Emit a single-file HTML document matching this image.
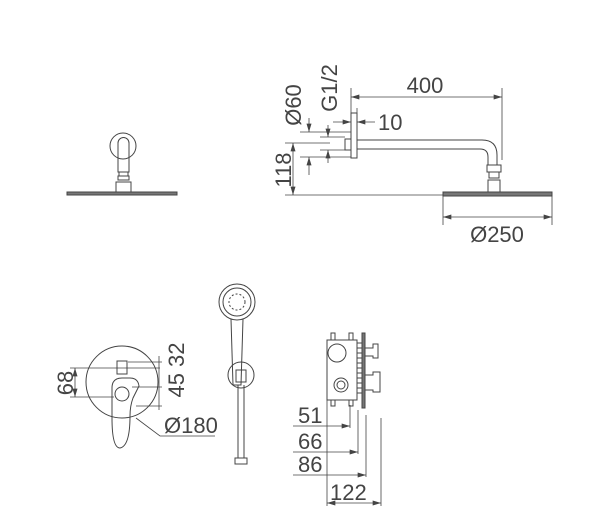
<!DOCTYPE html>
<html><head><meta charset="utf-8"><style>html,body{margin:0;padding:0;background:#fff}svg{display:block}</style></head>
<body>
<svg width="602" height="527" viewBox="0 0 602 527" xmlns="http://www.w3.org/2000/svg" font-family="Liberation Sans, sans-serif" fill="none" stroke="#444" stroke-width="1">
<defs>
<marker id="a" viewBox="0 0 10 6" refX="10" refY="3" markerWidth="9" markerHeight="5" orient="auto-start-reverse" markerUnits="userSpaceOnUse"><path d="M0,0 L10,3 L0,6z" fill="#444" stroke="none"/></marker>
</defs>
<circle cx="123" cy="146" r="13"/>
<path d="M118,172 V143 a5.5,5.5 0 0 1 11,0 V172z" />
<rect x="119" y="172" width="9" height="4"/>
<rect x="118" y="176" width="11" height="4"/>
<rect x="116" y="182" width="15" height="10"/>
<rect x="67" y="192" width="110" height="3" fill="#777"/>
<rect x="351" y="113" width="6" height="45"/>
<rect x="345" y="139" width="6" height="11"/>
<path d="M357,140 H482 q15,0 15,15 V165 M357,149 H480 q8,0 8,8 V165"/>
<rect x="487" y="165" width="14" height="7"/>
<rect x="489" y="172" width="10" height="6"/>
<rect x="488" y="180" width="12" height="12"/>
<rect x="443" y="192" width="109" height="4" fill="#777"/>
<g stroke-width="0.8">
<line x1="351" y1="88" x2="351" y2="113"/><line x1="502" y1="88" x2="502" y2="160"/>
<line x1="351" y1="97" x2="502" y2="97" marker-start="url(#a)" marker-end="url(#a)"/>
<line x1="285" y1="195" x2="443" y2="195"/><line x1="285" y1="143" x2="330" y2="143"/>
<line x1="293" y1="143" x2="293" y2="195" marker-start="url(#a)" marker-end="url(#a)"/>
<line x1="300" y1="132" x2="351" y2="132"/><line x1="300" y1="157" x2="351" y2="157"/>
<line x1="309" y1="118" x2="309" y2="132" marker-end="url(#a)"/><line x1="309" y1="175" x2="309" y2="157" marker-end="url(#a)"/>
<line x1="320" y1="137" x2="345" y2="137"/><line x1="320" y1="150" x2="345" y2="150"/>
<line x1="328" y1="125" x2="328" y2="137" marker-end="url(#a)"/><line x1="328" y1="163" x2="328" y2="150" marker-end="url(#a)"/>
<line x1="333" y1="122" x2="351" y2="122" marker-end="url(#a)"/><line x1="375" y1="122" x2="357" y2="122" marker-end="url(#a)"/>
<line x1="357" y1="113" x2="357" y2="108"/>
<line x1="443" y1="196" x2="443" y2="225"/><line x1="552" y1="196" x2="552" y2="225"/>
<line x1="443" y1="217" x2="552" y2="217" marker-start="url(#a)" marker-end="url(#a)"/>
</g>
<g fill="#444" stroke="none" font-size="22">
<text x="425" y="93" text-anchor="middle">400</text>
<text x="378" y="130">10</text>
<text x="497" y="242" text-anchor="middle">Ø250</text>
<text transform="translate(291,170) rotate(-90)" text-anchor="middle">118</text>
<text transform="translate(301,105) rotate(-90)" text-anchor="middle">Ø60</text>
<text transform="translate(337,88) rotate(-90)" text-anchor="middle">G1/2</text>
</g>
<circle cx="122" cy="382" r="36"/>
<rect x="117" y="361" width="10" height="13"/>
<path d="M112,388 q0,-10 10,-10 h8 q8,0 9,8 l-6,12 q-3,8 -3,18 q0,30 -10,32 q-8,0 -8,-30 z"/>
<circle cx="122" cy="394" r="7"/>
<g stroke-width="0.8">
<line x1="70" y1="368" x2="160" y2="368"/><line x1="70" y1="397" x2="114" y2="397"/>
<line x1="75" y1="368" x2="75" y2="397" marker-start="url(#a)" marker-end="url(#a)"/>
<line x1="128" y1="362" x2="162" y2="362"/><line x1="132" y1="387" x2="162" y2="387"/><line x1="136" y1="406" x2="162" y2="406"/>
<line x1="159" y1="356" x2="159" y2="410"/>
<path d="M136,418 L160,436 H215"/>
</g>
<g fill="#444" stroke="none" font-size="22">
<text transform="translate(73,383) rotate(-90)" text-anchor="middle">68</text>
<text transform="translate(184,370) rotate(-90)" text-anchor="middle">45 32</text>
<text x="164" y="433">Ø180</text>
</g>
<circle cx="237" cy="302" r="18"/><circle cx="237" cy="302" r="14"/><circle cx="237" cy="302" r="8" stroke-dasharray="2 2"/>
<path d="M231,319 L233,385 H241 L243,319"/>
<circle cx="241" cy="375" r="13"/>
<rect x="236" y="370" width="10" height="12"/>
<path d="M238,385 V458 M244,385 V458"/>
<rect x="235" y="458" width="12" height="6"/>
<rect x="327" y="340" width="30" height="60"/>
<rect x="331" y="333" width="4" height="7"/><rect x="349" y="333" width="4" height="7"/>
<rect x="331" y="400" width="4" height="6"/><rect x="349" y="400" width="4" height="6"/>
<path d="M357,343 H362 M357,348 H362 M357,353 H362 M357,358 H362 M357,363 H362 M357,368 H362 M357,373 H362 M357,378 H362 M357,383 H362 M357,388 H362 M357,393 H362"/>
<rect x="362" y="333" width="3" height="75" fill="#777"/>
<circle cx="337" cy="353" r="9"/><circle cx="341" cy="385" r="7"/><circle cx="341" cy="385" r="4"/>
<path d="M365,348 h8 v-4 h5 v14 h-5 v-2 h-8z M365,375 h8 v-3 h7 v20 h-7 v-2 h-8z"/>
<g stroke-width="0.8">
<line x1="327" y1="400" x2="327" y2="506"/>
<line x1="350" y1="405" x2="350" y2="428"/><line x1="358" y1="410" x2="358" y2="454"/>
<line x1="366" y1="415" x2="366" y2="477"/><line x1="381" y1="418" x2="381" y2="506"/>
<line x1="293" y1="426" x2="350" y2="426" marker-end="url(#a)"/>
<line x1="293" y1="452" x2="358" y2="452" marker-end="url(#a)"/>
<line x1="293" y1="475" x2="366" y2="475" marker-end="url(#a)"/>
<line x1="327" y1="503" x2="381" y2="503" marker-start="url(#a)" marker-end="url(#a)"/>
</g>
<g fill="#444" stroke="none" font-size="22">
<text x="298" y="423">51</text><text x="298" y="449">66</text><text x="298" y="472">86</text><text x="330" y="500">122</text>
</g>
</svg>
</body></html>
